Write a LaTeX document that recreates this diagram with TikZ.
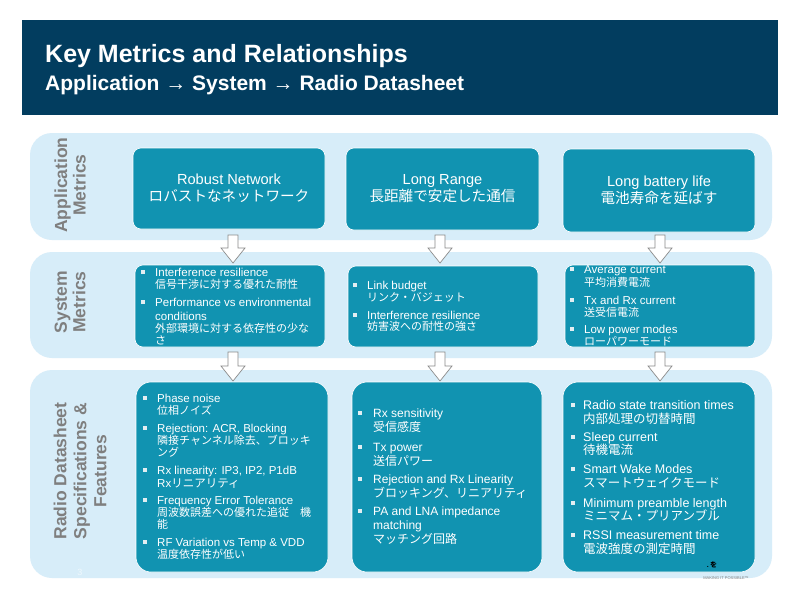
\documentclass[tikz,border=0pt]{standalone}
\usepackage{fontspec}
\setmainfont{Liberation Sans}
\newfontfamily\jp{Noto Sans CJK JP}
\definecolor{hdr}{HTML}{023D5F}
\definecolor{bandc}{HTML}{D7EDF9}
\definecolor{tealc}{HTML}{1193B1}
\definecolor{lblc}{HTML}{7F7F7F}
\definecolor{arrc}{HTML}{8A8A8A}
\definecolor{bulc}{HTML}{E2EEF2}
\newcount\lno
\newcommand\bitem[5]{%
  \global\advance\lno by 1 \edef\lname{t\the\lno}%
  \fill[bulc] ({#2-1.8},{#4-1.8}) rectangle ({#2+1.8},{#4+1.8});
  \node[txt, font=\fontsize{#1}{#1}\selectfont] (\lname) at (#3,{#4+0.35*#1}) {#5};}
\newcommand\bline[4]{%
  \global\advance\lno by 1 \edef\lname{t\the\lno}%
  \node[txt, font=\fontsize{#1}{#1}\selectfont] (\lname) at (#2,{#3+0.35*#1}) {#4};}
\newcommand\blockarr[4]{%
  \draw[blk] ({#1-5},#2) -- ({#1+5},#2) -- ({#1+5},#3) -- ({#1+12},#3) -- (#1,#4)
    -- ({#1-12},#3) -- ({#1-5},#3) -- cycle;}
\tikzset{
  txt/.style={anchor=base west, inner sep=0pt, text=white},
  box/.style={draw=white, line width=0.6pt, fill=tealc, inner sep=0pt},
  topbox/.style={box, rounded corners=8pt, text=white, align=center,
    font=\fontsize{14.6}{17}\selectfont},
  midbox/.style={box, rounded corners=8pt},
  lowbox/.style={box, rounded corners=15pt},
  band/.style={fill=bandc, rounded corners=22pt},
  lbl/.style={rotate=90, align=center, text=lblc, inner sep=0pt},
  blk/.style={draw=arrc, fill=white, line width=0.7pt, line join=miter},
}
\begin{document}
\begin{tikzpicture}[x=1pt, y=-1pt]
\useasboundingbox (0,0) rectangle (800,600);
\fill[white] (0,0) rectangle (800,600);
% header
\fill[hdr] (22,20) rectangle (778,115);
\node[anchor=base west, inner sep=0pt, text=white, font=\bfseries\fontsize{25}{25}\selectfont] (title) at (45,62) {Key Metrics and Relationships};
\node[anchor=base west, inner sep=0pt, text=white, font=\bfseries\fontsize{21}{21}\selectfont] (subtitle) at (45,90) {Application → System → Radio Datasheet};
% bands
\fill[band] (30,133) rectangle (772,240);
\fill[band] (30,252) rectangle (772,358);
\fill[band] (30,370) rectangle (772,578);
% side labels
\node[lbl, font=\bfseries\fontsize{17.5}{18.5}\selectfont] (lab1) at (70,185) {Application\\Metrics};
\node[lbl, font=\bfseries\fontsize{17.5}{18.5}\selectfont] (lab2) at (70,302) {System\\Metrics};
\node[lbl, font=\bfseries\fontsize{17.5}{20}\selectfont] (lab3) at (80,471) {Radio Datasheet\\Specifications \&\\Features};
% arrows
\blockarr{233}{235}{248}{263}
\blockarr{440}{235}{248}{263}
\blockarr{660}{235}{248}{263}
\blockarr{233}{352}{366}{381}
\blockarr{440}{352}{366}{381}
\blockarr{660}{352}{366}{381}
% row 1
\node[topbox, minimum width=192pt, minimum height=81pt] (r1a) at (229,188.5) {Robust Network\\{\jp ロバストなネットワーク}};
\node[topbox, minimum width=193pt, minimum height=82pt] (r1b) at (442.5,189) {Long Range\\{\jp 長距離で安定した通信}};
\node[topbox, minimum width=192pt, minimum height=83pt] (r1c) at (659,190.5) {Long battery life\\{\jp 電池寿命を延ばす}};
% row 2
\node[midbox, minimum width=190pt, minimum height=82pt] (r2a) at (230,306) {};
\node[midbox, minimum width=190pt, minimum height=81pt] (r2b) at (443,306.5) {};
\node[midbox, minimum width=190pt, minimum height=82pt] (r2c) at (660,306) {};
% row 3
\node[lowbox, minimum width=192pt, minimum height=190pt] (r3a) at (232,477) {};
\node[lowbox, minimum width=190pt, minimum height=190pt] (r3b) at (447,477) {};
\node[lowbox, minimum width=192pt, minimum height=190pt] (r3c) at (659,477) {};
% row 2 texts
\bitem{11.5}{143}{155}{272}{Interference resilience}
\bline{11}{155}{285}{\jp 信号干渉に対する優れた耐性}
\bitem{11.5}{143}{155}{302}{Performance vs environmental}
\bline{11.5}{155}{316}{conditions}
\bline{11}{155}{329}{\jp 外部環境に対する依存性の少な}
\bline{11}{155}{341}{\jp さ}
\bitem{11.5}{355}{367}{285}{Link budget}
\bline{11}{367}{298}{\jp リンク・バジェット}
\bitem{11.5}{355}{367}{315}{Interference resilience}
\bline{11}{367}{327}{\jp 妨害波への耐性の強さ}
\bitem{11.5}{572}{584}{269}{Average current}
\bline{11}{584}{283}{\jp 平均消費電流}
\bitem{11.5}{572}{584}{300}{Tx and Rx current}
\bline{11}{584}{313}{\jp 送受信電流}
\bitem{11.5}{572}{584}{329}{Low power modes}
\bline{11}{584}{342}{\jp ローパワーモード}
% row 3 texts
\bitem{11.5}{145}{157}{398}{Phase noise}
\bline{11}{157}{411}{\jp 位相ノイズ}
\bitem{11.5}{145}{157}{428}{Rejection: ACR, Blocking}
\bline{11}{157}{441}{\jp 隣接チャンネル除去、ブロッキ}
\bline{11}{157}{453}{\jp ング}
\bitem{11.5}{145}{157}{470}{Rx linearity: IP3, IP2, P1dB}
\bline{11.5}{157}{483}{Rx{\jp リニアリティ}}
\bitem{11.5}{145}{157}{500}{Frequency Error Tolerance}
\bline{11}{157}{513}{\jp 周波数誤差への優れた追従　機}
\bline{11}{157}{525}{\jp 能}
\bitem{11.5}{145}{157}{542}{RF Variation vs Temp \& VDD}
\bline{11}{157}{555}{\jp 温度依存性が低い}
\bitem{12}{360}{373}{413}{Rx sensitivity}
\bline{12}{373}{427}{\jp 受信感度}
\bitem{12}{360}{373}{447}{Tx power}
\bline{12}{373}{461}{\jp 送信パワー}
\bitem{12}{360}{373}{479}{Rejection and Rx Linearity}
\bline{12}{373}{493}{\jp ブロッキング、リニアリティ}
\bitem{12}{360}{373}{511}{PA and LNA impedance}
\bline{12}{373}{525}{matching}
\bline{12}{373}{539}{\jp マッチング回路}
\bitem{12.5}{573}{583}{405}{Radio state transition times}
\bline{12.5}{583}{419}{\jp 内部処理の切替時間}
\bitem{12.5}{573}{583}{437}{Sleep current}
\bline{12.5}{583}{450}{\jp 待機電流}
\bitem{12.5}{573}{583}{469}{Smart Wake Modes}
\bline{12.5}{583}{483}{\jp スマートウェイクモード}
\bitem{12.5}{573}{583}{503}{Minimum preamble length}
\bline{12.5}{583}{516}{\jp ミニマム・プリアンブル}
\bitem{12.5}{573}{583}{535}{RSSI measurement time}
\bline{12.5}{583}{549}{\jp 電波強度の測定時間}
% page number and logo fragment
\node[inner sep=0pt, text=white!60!bandc, font=\fontsize{9}{9}\selectfont] (pg) at (80,572) {3};
\node[inner sep=0pt, font=\bfseries\fontsize{7}{7}\selectfont] (lg1) at (712,565) {.\,{\jp を}};
\node[inner sep=0pt, text=gray, font=\fontsize{4}{4}\selectfont] (lg2) at (726,578) {MAKING IT POSSIBLE™};
\end{tikzpicture}
\end{document}
